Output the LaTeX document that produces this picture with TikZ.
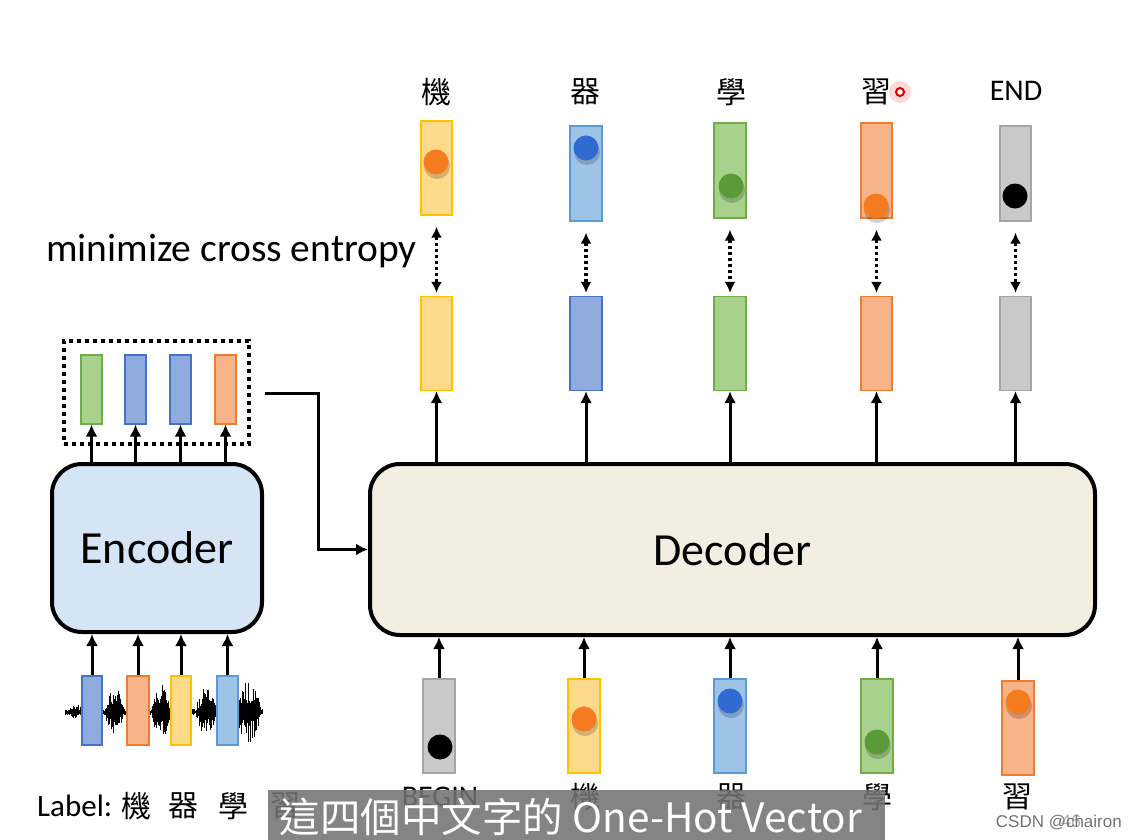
\documentclass[tikz,border=0pt]{standalone}
\usepackage{fontspec}
\setmainfont{Carlito}
\newfontfamily\cjk{Noto Sans CJK TC}
\newfontfamily\wmfont{Liberation Sans}
\usetikzlibrary{arrows.meta,calc}
\newcommand\fsz[1]{\fontsize{#1}{#1}\selectfont}
\definecolor{yelF}{HTML}{FFD98A}\definecolor{yelD}{HTML}{FFC000}
\definecolor{lbF}{HTML}{9DC3E6}\definecolor{lbD}{HTML}{5B9BD5}
\definecolor{dbF}{HTML}{8FAADC}\definecolor{dbD}{HTML}{4472C4}
\definecolor{grF}{HTML}{A9D18E}\definecolor{grD}{HTML}{70AD47}
\definecolor{orF}{HTML}{F8B389}\definecolor{orD}{HTML}{ED7D31}
\definecolor{gyF}{HTML}{C9C9C9}\definecolor{gyD}{HTML}{A5A5A5}
\definecolor{dotO}{HTML}{F47B20}\definecolor{dotB}{HTML}{2F6BD0}
\definecolor{dotG}{HTML}{5A9B37}
\definecolor{encF}{HTML}{D5E5F5}\definecolor{decF}{HTML}{F4EEE2}
\tikzset{
  vec/.style={draw, line width=1.3pt, inner sep=0pt, minimum width=31pt, minimum height=94pt},
  svec/.style={draw, line width=1.2pt, inner sep=0pt, minimum width=21pt, minimum height=69pt},
  yel/.style={fill=yelF, draw=yelD}, lb/.style={fill=lbF, draw=lbD},
  db/.style={fill=dbF, draw=dbD}, gr/.style={fill=grF, draw=grD},
  org/.style={fill=orF, draw=orD}, gy/.style={fill=gyF, draw=gyD},
  arr/.style={line width=3pt, -{Latex[length=12pt,width=12pt]}},
  darr/.style={line width=3.2pt, dash pattern=on 3pt off 3pt, {Latex[length=11pt,width=11pt]}-{Latex[length=11pt,width=11pt]}},
  block/.style={draw, line width=4pt, rounded corners=30pt, inner sep=0pt},
  lab/.style={inner sep=0pt, font=\cjk\fsz{30}},
  elab/.style={inner sep=0pt, font=\fsz{30}},
  wave/.style={line width=0.8pt, black},
}
\newcommand\onedot[3]{%
  \fill[black, opacity=0.18] (#1+1,#2+4) circle (13pt);
  \fill[#3] (#1,#2) circle (12.5pt);
}
\begin{document}
\begin{tikzpicture}[x=1pt,y=-1pt]
\useasboundingbox (0,0) rectangle (1137,840);
\fill[white] (0,0) rectangle (1137,840);

% ---------- waveform ----------
\pgfmathsetseed{11}
\foreach \x in {65,66,...,262}{
  \pgfmathsetmacro\a{3 + max(0,22*(1-((\x-114)/10)^2)) + max(0,14*(1-((\x-140)/9)^2)) + max(0,24*(1-((\x-161)/10)^2)) + max(0,22*(1-((\x-206)/11)^2)) + max(0,28*(1-((\x-248)/13)^2)) + max(0,4*(1-((\x-78)/12)^2))}
  \pgfmathsetmacro\u{\a*(0.3+0.7*rnd)}
  \pgfmathsetmacro\v{\a*(0.3+0.7*rnd)}
  \draw[wave] (\x,712-\u) -- (\x,712+\v);
}

% ---------- blocks ----------
\node[block, fill=encF, minimum width=210pt, minimum height=168pt] (enc) at (157,548) {};
\node[font=\fsz{46}] at (enc) {Encoder};
\node[block, fill=decF, minimum width=725pt, minimum height=171pt] (dec) at (732.5,549.5) {};
\node[font=\fsz{46}] at (dec) {Decoder};

% ---------- encoder inputs ----------
\node[svec, db, minimum width=20pt] (i1) at (92,710.5) {};
\node[svec, org, minimum width=22pt] (i2) at (138,710.5) {};
\node[svec, yel, minimum width=20pt] (i3) at (181,710.5) {};
\node[svec, lb] (i4) at (227.5,710.5) {};
\foreach \n in {i1,i2,i3,i4}{ \draw[arr] (\n.north) -- (\n.north |- enc.south); }

% ---------- encoder outputs ----------
\node[draw, line width=4pt, dash pattern=on 4pt off 4pt, minimum width=185pt, minimum height=103pt, inner sep=0pt] (dbox) at (156.5,392.5) {};
\node[svec, gr] (e1) at (91.5,389.5) {};
\node[svec, db] (e2) at (135.5,389.5) {};
\node[svec, db] (e3) at (180.5,389.5) {};
\node[svec, org] (e4) at (225.5,389.5) {};
\foreach \n in {e1,e2,e3,e4}{ \draw[arr] (\n.south |- enc.north) -- (\n.south); }
\coordinate (cstart) at ([xshift=14pt,yshift=-1pt]dbox.east);
\draw[arr] (cstart) -- ++(53,0) |- (dec.west);

% ---------- decoder outputs ----------
\node[vec, yel] (o1) at (436.5,343.5) {};
\node[vec, db, minimum width=32pt] (o2) at (586,343.5) {};
\node[vec, gr, minimum width=32pt] (o3) at (730,343.5) {};
\node[vec, org] (o4) at (876.5,343.5) {};
\node[vec, gy] (o5) at (1015.5,343.5) {};
\foreach \n in {o1,o2,o3,o4,o5}{ \draw[arr] (\n.south |- dec.north) -- (\n.south); }

% ---------- targets ----------
\node[vec, yel] (t1) at (436.5,168) {};
\node[vec, lb, minimum width=32pt, minimum height=95pt] (t2) at (586,173.5) {};
\node[vec, gr, minimum width=32pt, minimum height=95pt] (t3) at (730,170.5) {};
\node[vec, org, minimum height=95pt] (t4) at (876.5,170.5) {};
\node[vec, gy, minimum height=95pt] (t5) at (1015.5,173.5) {};
\onedot{436}{162}{dotO}
\onedot{586}{148}{dotB}
\onedot{731}{186}{dotG}
\onedot{876}{206}{dotO}
\fill[black] (1015,196) circle (12.5pt);
\foreach \a/\b in {t1/o1,t2/o2,t3/o3,t4/o4,t5/o5}{
  \draw[darr] ([yshift=-11pt]\a.south) -- ([yshift=3pt]\b.north);
}
\node[lab] (l1) at (436,92) {機};
\node[lab] (l2) at (585,92) {器};
\node[lab] (l3) at (731,92) {學};
\node[lab] (l4) at (876,92) {習};
\node[elab] (l5) at (1016,91) {END};
% laser pointer
\fill[red, opacity=0.15] (900,92) circle (11pt);
\draw[red!85!black, line width=2pt, fill=white] (900,92) circle (4pt);

\node[anchor=west, font=\fsz{39.5}, inner sep=0pt] (mce) at (46,251) {minimize cross entropy};

% ---------- decoder inputs ----------
\node[vec, gy, minimum width=32pt] (d1) at (439,726) {};
\node[vec, yel, minimum width=32pt] (d2) at (584,726) {};
\node[vec, lb, minimum width=32pt] (d3) at (730,726) {};
\node[vec, gr, minimum width=32pt] (d4) at (877,726) {};
\node[vec, org, minimum width=32pt] (d5) at (1018,728) {};
\fill[black] (440,747) circle (12.5pt);
\onedot{584}{719}{dotO}
\onedot{730}{701}{dotB}
\onedot{877}{742}{dotG}
\onedot{1018}{702}{dotO}
\foreach \n in {d1,d2,d3,d4,d5}{ \draw[arr] (\n.north) -- (\n.north |- dec.south); }
\node[elab] (b1) at (440,797) {BEGIN};
\node[lab] (b2) at (585,797) {機};
\node[lab] (b3) at (731,797) {器};
\node[lab] (b4) at (877,797) {學};
\node[lab] (b5) at (1017,797) {習};

% ---------- label line ----------
\node[anchor=west, font=\fsz{31}, inner sep=0pt] (lbl) at (37,806) {Label:};
\node[lab] (c1) at (136,806) {機};
\node[lab] (c2) at (183,806) {器};
\node[lab] (c3) at (233,806) {學};
\node[lab] (c4) at (285,806) {習};

% ---------- subtitle ----------
\fill[black!55, fill opacity=0.88] (268,790) rectangle (885,840);
\node[font=\cjk\fsz{40.5}, text=white, inner sep=0pt] (sub) at (571,817) {這四個中文字的 One-Hot Vector};
\node[font=\wmfont\fsz{18}, text=black!30, inner sep=0pt] (n46) at (1071,821) {46};
\node[font=\wmfont\fsz{17}, text=black!55, anchor=east, inner sep=0pt] (wm) at (1122,823) {CSDN @chairon};
\end{tikzpicture}
\end{document}
